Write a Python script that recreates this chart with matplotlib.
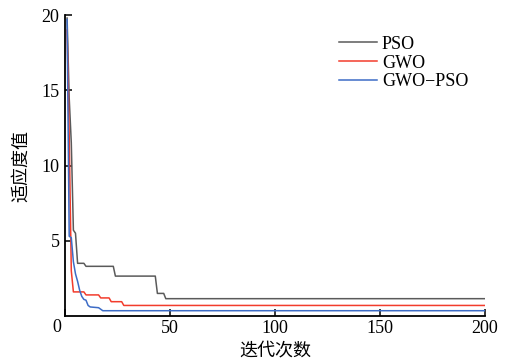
import matplotlib
matplotlib.use("Agg")
import matplotlib.pyplot as plt

# data (iteration, fitness)
pso_x = [1, 2, 3, 4, 5, 6, 9, 10, 23, 24, 43, 44, 47, 48, 200]
pso_y = [19.8, 14.5, 11.5, 5.7, 5.5, 3.5, 3.5, 3.3, 3.3, 2.65, 2.65, 1.5, 1.5, 1.15, 1.15]

gwo_x = [1, 2, 3, 4, 9, 10, 16, 17, 21, 22, 27, 28, 200]
gwo_y = [19.0, 12.0, 3.0, 1.6, 1.6, 1.4, 1.4, 1.2, 1.2, 0.95, 0.95, 0.7, 0.7]

hyb_x = [1, 2, 3, 4, 5, 6, 7, 8, 9, 10, 11, 12, 16, 17, 18, 200]
hyb_y = [19.7, 5.3, 5.2, 3.6, 2.8, 2.3, 1.7, 1.3, 1.1, 1.05, 0.7, 0.6, 0.55, 0.45, 0.35, 0.35]

labels = ["PSO", "GWO", "GWO\u2212PSO"]
xticks = [0, 50, 100, 150, 200]
xticklabels = ["", "50", "100", "150", "200"]  # the 0 is drawn separately
yticks = [5, 10, 15, 20]

serif = ["Liberation Serif", "DejaVu Serif"]
cjk = ["Noto Sans CJK SC", "DejaVu Sans"]
fs = 13

fig = plt.figure(figsize=(5.05, 3.61), dpi=100)
ax = fig.add_axes([0.1287, 0.1247, 0.8317, 0.8337])

ax.plot(pso_x, pso_y, color="#5a5a5a", lw=1.1, label=labels[0])
ax.plot(gwo_x, gwo_y, color="#f23c2c", lw=1.1, label=labels[1])
ax.plot(hyb_x, hyb_y, color="#3d6cc6", lw=1.1, label=labels[2])

ax.set_xlim(0, 200)
ax.set_ylim(0, 20)
ax.set_xticks(xticks)
ax.set_xticklabels(xticklabels)
ax.set_yticks(yticks)
ax.spines["top"].set_visible(False)
ax.spines["right"].set_visible(False)
ax.spines["left"].set_linewidth(1.3)
ax.spines["bottom"].set_linewidth(1.3)
ax.tick_params(direction="in", length=5, width=1.1, labelsize=fs)
ax.tick_params(axis="x", pad=3)
ax.tick_params(axis="y", pad=4)
for t in ax.get_xticklabels() + ax.get_yticklabels():
    t.set_family(serif)

# the "0" sits left-below the origin
fig.text(0.112, 0.093, "0", family=serif, fontsize=fs, ha="center", va="center")

# x label placed by hand, it sits tight under the tick labels
fig.text(0.545, 0.028, "迭代次数", family=cjk, fontsize=fs, ha="center", va="center")
ax.set_ylabel("适应度值", family=cjk, fontsize=fs, labelpad=8)

leg = ax.legend(loc="upper right", bbox_to_anchor=(0.999, 0.985), frameon=False,
                handlelength=2.1, handletextpad=0.3, labelspacing=0.1,
                prop={"family": serif, "size": fs})

fig.savefig("out.png", dpi=100)
